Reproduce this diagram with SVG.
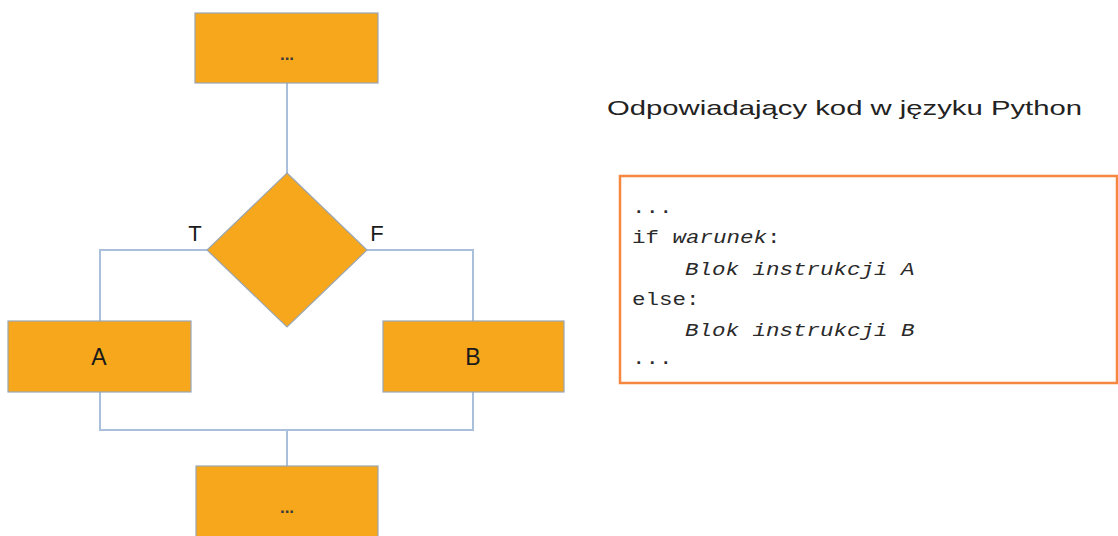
<svg xmlns="http://www.w3.org/2000/svg" width="1118" height="536" viewBox="0 0 1118 536">
  <style>
    .shape { fill: #f7a71c; stroke: #9aa6b4; stroke-width: 1.2; }
    .link { fill: none; stroke: #a9bfdc; stroke-width: 2; }
    .lbl { font-family: "Liberation Sans", Arial, sans-serif; fill: #1a1a1a; text-anchor: middle; }
    .dots { font-family: "Liberation Sans", Arial, sans-serif; font-size: 17px; font-weight: bold; fill: #3a3a3a; text-anchor: middle; }
    .code { font-family: "Liberation Mono", "DejaVu Sans Mono", monospace; font-size: 18px; fill: #2a2a2a; }
  </style>
  <rect width="1118" height="536" fill="#ffffff"/>

  <!-- connectors -->
  <g id="connectors">
    <path class="link" d="M287 83 V173"/>
    <path class="link" d="M207 250 H100 V321"/>
    <path class="link" d="M367 250 H473 V321"/>
    <path class="link" d="M100 392 V430 H473 V392"/>
    <path class="link" d="M287 430 V466"/>
  </g>

  <g id="start">
    <rect class="shape" x="195" y="13" width="183" height="70"/>
    <text class="dots" x="287" y="60">...</text>
  </g>

  <g id="decision">
    <polygon class="shape" points="287,173 367,250 287,327 207,250"/>
    <text class="lbl" x="195" y="241" font-size="22">T</text>
    <text class="lbl" x="377" y="241" font-size="22">F</text>
  </g>

  <g id="blockA">
    <rect class="shape" x="8" y="321" width="183" height="71"/>
    <text class="lbl" x="99" y="365" font-size="23">A</text>
  </g>

  <g id="blockB">
    <rect class="shape" x="383" y="321" width="181" height="71"/>
    <text class="lbl" x="473" y="365" font-size="23">B</text>
  </g>

  <g id="end">
    <rect class="shape" x="196" y="466" width="182" height="80"/>
    <text class="dots" x="287" y="513">...</text>
  </g>

  <g id="title">
    <text x="607" y="115" font-family="Liberation Sans, Arial, sans-serif" font-size="21" fill="#222" textLength="475" lengthAdjust="spacingAndGlyphs">Odpowiadający kod w języku Python</text>
  </g>

  <g id="code">
    <rect x="620" y="176" width="497" height="207" fill="#ffffff" stroke="#f5873e" stroke-width="2.5"/>
    <g class="code" transform="translate(632 0) scale(1.25 1)">
      <text x="0" y="213">...</text>
      <text x="0" y="243">if <tspan font-style="italic">warunek</tspan>:</text>
      <text x="42.5" y="275" font-style="italic">Blok instrukcji A</text>
      <text x="0" y="305">else:</text>
      <text x="42.5" y="336" font-style="italic">Blok instrukcji B</text>
      <text x="0" y="364">...</text>
    </g>
  </g>
</svg>
